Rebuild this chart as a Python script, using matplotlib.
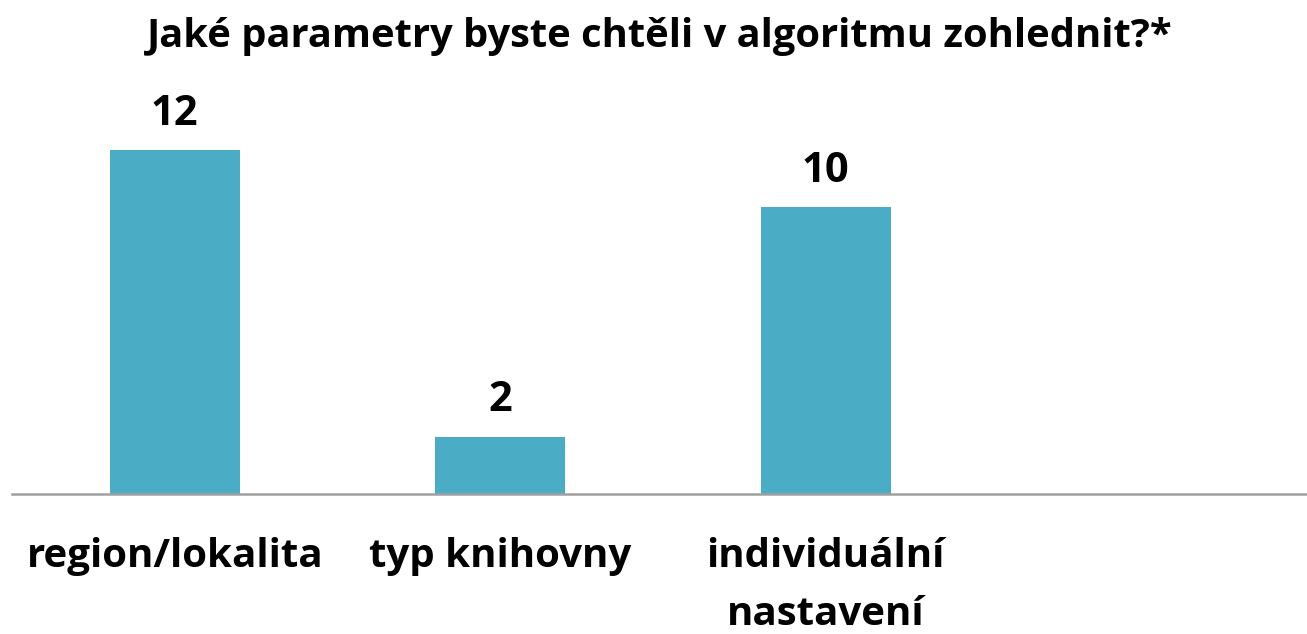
import matplotlib
matplotlib.use("Agg")
import matplotlib.pyplot as plt

categories = ["region/lokalita", "typ knihovny", "individuální\nnastavení", ""]
values = [12, 2, 10, None]
title = "Jaké parametry byste chtěli v algoritmu zohlednit?*"

plt.rcParams['font.family'] = ['Open Sans', 'DejaVu Sans']

W, H = 1307, 634
fig = plt.figure(figsize=(W / 100, H / 100), dpi=100)
ax_left, ax_right = 12, 1307
ax_bottom, ax_top = 494, 92.6
ax = fig.add_axes([ax_left / W, 1 - ax_bottom / H, (ax_right - ax_left) / W, (ax_bottom - ax_top) / H])

xs = list(range(len(categories)))
bar_x = [x for x, v in zip(xs, values) if v is not None]
bar_v = [v for v in values if v is not None]
bars = ax.bar(bar_x, bar_v, width=0.4, color="#4BACC6", zorder=2)
for x, v in zip(bar_x, bar_v):
    ax.annotate(str(v), (x, v), xytext=(0, 11), textcoords="offset points",
                ha="center", va="bottom", fontsize=30, fontweight="bold", color="black")

ax.set_xlim(-0.5, -0.5 + (ax_right - ax_left) / 325.5)
ax.set_ylim(0, 14)
ax.set_xticks(xs)
ax.set_xticklabels(categories, fontsize=29, fontweight="bold", linespacing=1.62, va="top")
ax.tick_params(axis="x", length=0, pad=31)
ax.set_yticks([])
for s in ["top", "right", "left"]:
    ax.spines[s].set_visible(False)
ax.spines["bottom"].set_color("#A0A0A0")
ax.spines["bottom"].set_linewidth(1.8)

fig.text(660 / W, 1 - 37 / H, title, ha="center", va="center", fontsize=28.7, fontweight="bold")

fig.savefig("out.png", dpi=100)
